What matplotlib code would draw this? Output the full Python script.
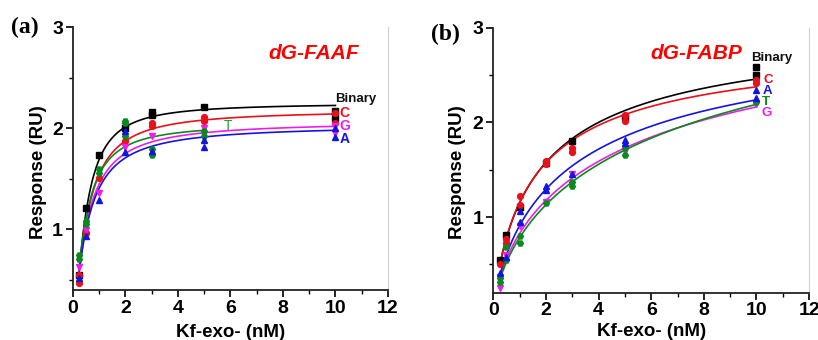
import numpy as np
import matplotlib
matplotlib.use("Agg")
import matplotlib.pyplot as plt
from matplotlib.ticker import MultipleLocator

plt.rcParams['font.family'] = ['Liberation Sans', 'DejaVu Sans']

series = ['Binary', 'C', 'G', 'T', 'A']
colors = {'Binary': '#000000', 'C': '#e8101a', 'G': '#ee1ee8', 'T': '#0a8a1e', 'A': '#1414e0'}
markers = {'Binary': 's', 'C': 'o', 'G': 'v', 'T': 'H', 'A': '^'}

# panel (a) dG-FAAF, measured responses (RU) vs Kf-exo- (nM)
faaf_x = {
    'Binary': [0.25, 0.5, 1, 2, 3, 3, 5, 10, 10],
    'C': [0.25, 0.25, 0.5, 1, 2, 3, 3, 5, 5, 10, 10],
    'G': [0.25, 0.5, 1, 2, 3, 5, 10, 10],
    'T': [0.25, 0.25, 0.5, 0.5, 1, 1, 2, 2, 2, 3, 3, 5, 5],
    'A': [0.25, 0.5, 1, 2, 2, 3, 5, 5, 10, 10],
}
faaf_y = {
    'Binary': [0.55, 1.21, 1.74, 2.00, 2.16, 2.13, 2.21, 2.17, 2.10],
    'C': [0.55, 0.47, 0.96, 1.51, 1.87, 2.05, 2.02, 2.11, 2.07, 2.15, 2.05],
    'G': [0.63, 0.99, 1.36, 1.82, 1.92, 2.00, 2.02, 1.95],
    'T': [0.75, 0.71, 1.08, 1.05, 1.60, 1.56, 2.07, 2.05, 1.92, 1.80, 1.74, 1.97, 1.92],
    'A': [0.52, 0.93, 1.29, 1.97, 1.77, 1.78, 1.88, 1.82, 2.00, 1.91],
}
# Hill fit parameters (Rmax, K, n)
faaf_rmax = {'Binary': 2.250, 'C': 2.183, 'G': 2.069, 'T': 2.052, 'A': 2.033}
faaf_k = {'Binary': 0.480, 'C': 0.520, 'G': 0.510, 'T': 0.450, 'A': 0.520}
faaf_n = {'Binary': 1.500, 'C': 1.340, 'G': 1.250, 'T': 1.380, 'A': 1.230}

# panel (b) dG-FABP
fabp_x = {
    'Binary': [0.25, 0.5, 1, 2, 3, 5, 10, 10],
    'C': [0.25, 0.5, 0.5, 1, 1, 2, 2, 3, 3, 5, 5, 10, 10],
    'G': [0.25, 0.25, 0.5, 1, 2, 3, 5, 10],
    'T': [0.25, 0.25, 0.5, 0.5, 1, 1, 2, 3, 3, 5, 5, 10],
    'A': [0.25, 0.5, 1, 1, 2, 2, 3, 5, 5, 10, 10],
}
fabp_y = {
    'Binary': [0.55, 0.81, 1.11, 1.57, 1.80, 2.06, 2.58, 2.50],
    'C': [0.50, 0.77, 0.73, 1.22, 1.13, 1.59, 1.56, 1.73, 1.69, 2.08, 2.01, 2.45, 2.42],
    'G': [0.37, 0.25, 0.60, 0.90, 1.16, 1.45, 1.70, 2.19],
    'T': [0.36, 0.31, 0.68, 0.55, 0.80, 0.73, 1.15, 1.37, 1.33, 1.73, 1.66, 2.22],
    'A': [0.41, 0.58, 1.06, 0.95, 1.33, 1.29, 1.45, 1.81, 1.78, 2.34, 2.26],
}
fabp_rmax = {'Binary': 3.104, 'C': 2.891, 'G': 3.622, 'T': 4.068, 'A': 3.154}
fabp_k = {'Binary': 1.920, 'C': 1.620, 'G': 5.690, 'T': 7.990, 'A': 3.180}
fabp_n = {'Binary': 0.810, 'C': 0.840, 'G': 0.700, 'T': 0.690, 'A': 0.780}


def hill(x, rmax, k, n):
    return rmax * x ** n / (k ** n + x ** n)


def draw_panel(ax, xs, ys, rmax, kd, nh, ylo, ylab_xy, xlab_y):
    for s in series:
        x = np.array(xs[s])
        y = np.array(ys[s])
        xf = np.linspace(x.min(), x.max(), 200)
        ax.plot(xf, hill(xf, rmax[s], kd[s], nh[s]), color=colors[s], lw=1.2, zorder=2)
        ax.plot(x, y, ls='none', marker=markers[s], ms=4.2, color=colors[s], zorder=3)
    ax.set_xlim(0, 12)
    ax.set_ylim(ylo, 3)
    ax.xaxis.set_major_locator(MultipleLocator(2))
    ax.xaxis.set_minor_locator(MultipleLocator(1))
    ax.yaxis.set_major_locator(MultipleLocator(1))
    ax.yaxis.set_minor_locator(MultipleLocator(0.5))
    ax.tick_params(which='major', direction='out', length=5, width=1.2, labelsize=14, pad=2)
    ax.tick_params(which='minor', direction='out', length=3, width=1.0)
    for lab in ax.get_xticklabels() + ax.get_yticklabels():
        lab.set_fontweight('bold')
    ax.spines['left'].set_linewidth(1.3)
    ax.spines['bottom'].set_linewidth(1.3)
    ax.spines['left'].set_color('#222222')
    ax.spines['bottom'].set_color('#222222')
    ax.spines['top'].set_visible(False)
    ax.spines['right'].set_color('#d0d0d0')
    ax.set_xlabel('Kf-exo- (nM)', fontsize=13.5, fontweight='bold')
    ax.set_ylabel('Response (RU)', fontsize=13.5, fontweight='bold')
    ax.yaxis.set_label_coords(*ylab_xy)
    ax.xaxis.set_label_coords(0.5, xlab_y)


fig = plt.figure(figsize=(8.18, 3.40), dpi=100)
ax1 = fig.add_axes([0.0889, 0.147, 0.3854, 0.7727])
ax2 = fig.add_axes([0.6031, 0.139, 0.386, 0.7794])

draw_panel(ax1, faaf_x, faaf_y, faaf_rmax, faaf_k, faaf_n, 0.4, (-0.082, 0.449), -0.129)
draw_panel(ax2, fabp_x, fabp_y, fabp_rmax, fabp_k, fabp_n, 0.2, (-0.086, 0.454), -0.114)

# panel (a) annotations
ax1.text(9.17, 2.74, 'dG-FAAF', color='#ff0000', fontsize=15, fontweight='bold',
         style='italic', ha='center', va='center')
ax1.text(10.0, 2.29, 'Binary', color='#111111', fontsize=9.5, fontweight='bold', va='center')
ax1.text(10.15, 2.15, 'C', color=colors['C'], fontsize=10, fontweight='bold', va='center')
ax1.text(10.15, 2.02, 'G', color=colors['G'], fontsize=10, fontweight='bold', va='center')
ax1.text(10.15, 1.89, 'A', color=colors['A'], fontsize=10, fontweight='bold', va='center')
ax1.text(5.75, 2.02, 'T', color='#2a9a2a', fontsize=10, va='center')

# panel (b) annotations
ax2.text(7.7, 2.73, 'dG-FABP', color='#ff0000', fontsize=15, fontweight='bold',
         style='italic', ha='center', va='center')
ax2.text(9.8, 2.68, 'Binary', color='#111111', fontsize=9.5, fontweight='bold', va='center')
ax2.text(10.25, 2.45, 'C', color=colors['C'], fontsize=9.5, fontweight='bold', va='center')
ax2.text(10.25, 2.33, 'A', color=colors['A'], fontsize=9.5, fontweight='bold', va='center')
ax2.text(10.2, 2.22, 'T', color=colors['T'], fontsize=9.5, fontweight='bold', va='center')
ax2.text(10.2, 2.10, 'G', color=colors['G'], fontsize=9.5, fontweight='bold', va='center')

fig.text(0.014, 0.92, '(a)', fontsize=17, fontweight='bold', family='Liberation Serif', va='center')
fig.text(0.527, 0.90, '(b)', fontsize=17, fontweight='bold', family='Liberation Serif', va='center')

fig.savefig('out.png', dpi=100)
